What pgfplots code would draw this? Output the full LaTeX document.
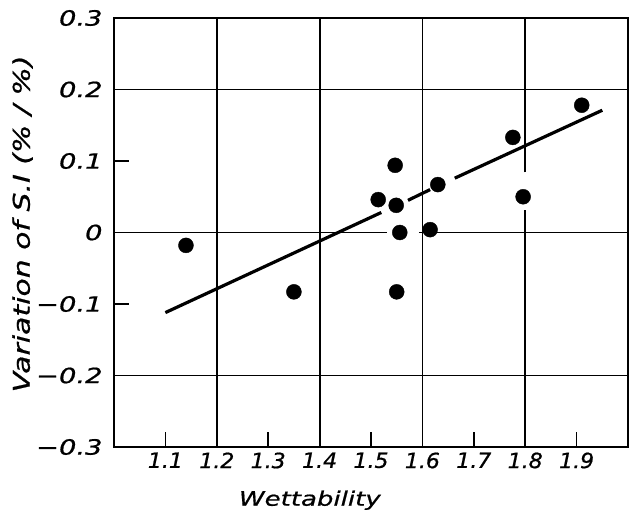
\documentclass[border=0pt]{standalone}
\usepackage{pgfplots}
\pgfplotsset{compat=1.18}
\usepackage{fontspec}
\setmainfont{DejaVu Sans}
\newfontfamily\lf[FakeStretch=1.3,FakeBold=0.8]{DejaVu Sans}
\newfontfamily\xf[FakeStretch=1.05,FakeBold=0.8]{DejaVu Sans}
\begin{document}
\begin{tikzpicture}
\begin{axis}[
  width=514pt, height=429pt, scale only axis,
  at={(0,0)}, anchor=south west,
  xmin=1.0, xmax=2.0, ymin=-0.3, ymax=0.3,
  axis line style={line width=2.4pt},
  xtick={1.1,1.3,1.5,1.7,1.9}, xticklabels={1.1,1.3,1.5,1.7,1.9},
  extra x ticks={1.2,1.4,1.6,1.8}, extra x tick labels={1.2,1.4,1.6,1.8},
  extra x tick style={major tick length=0pt},
  ytick={-0.1,0.1}, yticklabels={−0.1,0.1},
  extra y ticks={-0.3,-0.2,0,0.2,0.3}, extra y tick labels={−0.3,−0.2,0,0.2,0.3},
  extra y tick style={major tick length=0pt},
  tick align=inside, major tick length=15pt,
  xtick pos=bottom, ytick pos=left,
  tick style={line width=1.6pt, black},
  yticklabel style={font=\lf\itshape\fontsize{21}{21}\selectfont, xshift=-8pt},
  xticklabel style={font=\xf\itshape\fontsize{21}{21}\selectfont, yshift=-2pt},
  xlabel={Wettability},
  ylabel={Variation of S.I (\% / \%)},
  xlabel style={font=\lf\itshape\fontsize{20}{20}\selectfont, at={(axis description cs:0.381,-0.124)}, anchor=center},
  ylabel style={font=\lf\itshape\fontsize{23}{23}\selectfont, at={(axis description cs:-0.178,0.52)}, rotate=0, anchor=center},
  clip=false,
]
% grid lines
\addplot[black, line width=1.8pt] coordinates {(1.2,-0.3) (1.2,0.3)};
\addplot[black, line width=1.8pt] coordinates {(1.4,-0.3) (1.4,0.3)};
\addplot[black, line width=1.8pt] coordinates {(1.6,-0.3) (1.6,0.3)};
\addplot[black, line width=1.8pt] coordinates {(1.8,-0.3) (1.8,0.032)};
\addplot[black, line width=1.8pt] coordinates {(1.8,0.084) (1.8,0.3)};
\addplot[black, line width=1.8pt] coordinates {(1.0,0.2) (2.0,0.2)};
\addplot[black, line width=1.8pt] coordinates {(1.0,-0.2) (2.0,-0.2)};
\addplot[black, line width=1.8pt] coordinates {(1.0,0) (1.531,0)};
\addplot[black, line width=1.8pt] coordinates {(1.593,0) (2.0,0)};
% regression line (drawn broken, as in the original)
\addplot[black, line width=3.2pt] coordinates {(1.10,-0.112) (1.52,0.028)};
\addplot[black, line width=3.2pt] coordinates {(1.572,0.045) (1.615,0.060)};
\addplot[black, line width=3.2pt] coordinates {(1.663,0.076) (1.95,0.171)};
% data points
\addplot[only marks, mark=*, mark size=7.5pt, black] coordinates {
  (1.14,-0.018) (1.35,-0.083) (1.514,0.046) (1.547,0.094) (1.549,0.038)
  (1.556,0.000) (1.550,-0.083) (1.615,0.004) (1.630,0.067) (1.776,0.133)
  (1.796,0.050) (1.910,0.178)
};
\end{axis}
\pgfresetboundingbox
\path (-114pt,-68pt) rectangle (518pt,447pt);
\end{tikzpicture}
\end{document}
